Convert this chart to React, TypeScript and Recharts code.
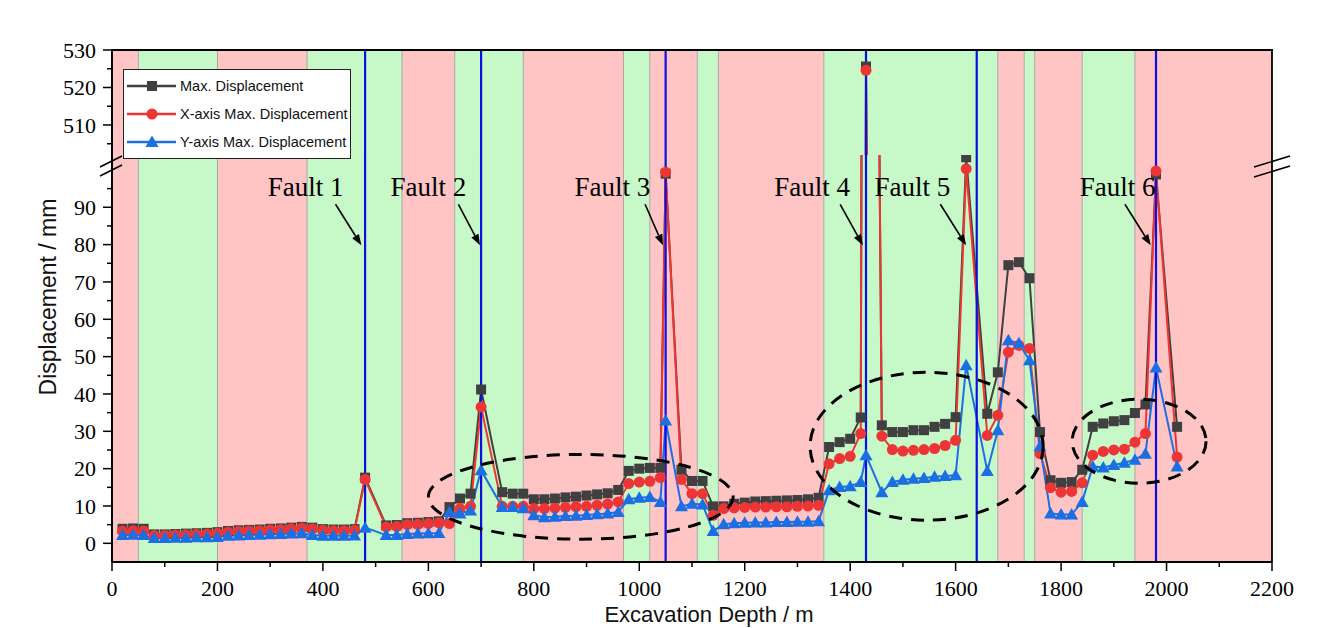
import React from 'react';
import { LineChart, Line, XAxis, YAxis, ReferenceArea, ReferenceLine, ReferenceDot, Legend } from 'recharts';

// excavation depth (m) of each monitoring section
const depth = [
  20, 40, 60, 80, 100, 120, 140, 160, 180, 200,
  220, 240, 260, 280, 300, 320, 340, 360, 380, 400,
  420, 440, 460, 480, 520, 540, 560, 580, 600, 620,
  640, 660, 680, 700, 740, 760, 780, 800, 820, 840,
  860, 880, 900, 920, 940, 960, 980, 1000, 1020, 1040,
  1050, 1080, 1100, 1120, 1140, 1160, 1180, 1200, 1220, 1240,
  1260, 1280, 1300, 1320, 1340, 1360, 1380, 1400, 1420, 1430,
  1460, 1480, 1500, 1520, 1540, 1560, 1580, 1600, 1620, 1660,
  1680, 1700, 1720, 1740, 1760, 1780, 1800, 1820, 1840, 1860,
  1880, 1900, 1920, 1940, 1960, 1980, 2020,
];

const maxDisp = [
  3.9, 4.0, 3.9, 2.4, 2.4, 2.5, 2.6, 2.7, 2.8, 3.0,
  3.3, 3.5, 3.6, 3.7, 3.9, 4.0, 4.2, 4.4, 4.2, 3.8,
  3.7, 3.7, 3.8, 17.6, 4.8, 4.9, 5.4, 5.5, 5.7, 5.9,
  9.7, 12.0, 13.3, 41.2, 13.7, 13.3, 13.3, 11.8, 11.8, 12.0,
  12.3, 12.5, 12.8, 13.1, 13.4, 14.3, 19.4, 20.0, 20.2, 20.2,
  99.0, 19.7, 16.7, 16.7, 9.9, 9.9, 10.6, 10.9, 11.2, 11.3,
  11.4, 11.5, 11.6, 11.8, 12.2, 25.8, 27.1, 28.0, 33.7, 525.6,
  31.6, 29.8, 29.8, 30.3, 30.3, 31.2, 32.0, 33.8, 103.4, 34.7,
  45.8, 74.5, 75.3, 71.0, 29.8, 16.9, 16.2, 16.4, 19.7, 31.2,
  32.1, 32.7, 33.0, 34.9, 37.2, 98.8, 31.2,
];

const xDisp = [
  3.3, 3.4, 3.3, 2.1, 2.1, 2.2, 2.3, 2.4, 2.5, 2.7,
  3.0, 3.2, 3.3, 3.4, 3.6, 3.7, 3.9, 4.1, 3.9, 3.5,
  3.4, 3.4, 3.5, 17.1, 4.4, 4.5, 5.0, 5.1, 5.3, 5.5,
  5.3, 9.3, 9.9, 36.5, 9.9, 9.9, 9.9, 9.3, 9.3, 9.4,
  9.6, 9.8, 9.9, 10.2, 10.5, 11.1, 16.0, 16.4, 16.6, 17.6,
  99.4, 17.1, 13.3, 13.3, 7.5, 9.3, 9.5, 9.6, 9.7, 9.7,
  9.8, 9.8, 9.9, 10.0, 10.2, 21.3, 22.7, 23.3, 29.4, 524.6,
  28.7, 25.1, 24.7, 24.9, 25.1, 25.4, 26.2, 27.6, 100.3, 28.9,
  34.3, 51.2, 53.0, 52.2, 24.0, 14.9, 13.7, 13.9, 16.2, 23.6,
  24.6, 25.0, 25.2, 27.1, 29.4, 99.7, 23.1,
];

const yDisp = [
  2.2, 2.3, 2.2, 1.4, 1.4, 1.5, 1.5, 1.6, 1.6, 1.7,
  2.0, 2.1, 2.2, 2.3, 2.4, 2.5, 2.6, 2.7, 2.2, 2.0,
  2.0, 2.0, 2.1, 4.2, 2.2, 2.2, 2.5, 2.6, 2.7, 2.8,
  8.4, 8.0, 8.8, 19.6, 9.7, 9.7, 9.4, 7.5, 7.0, 7.1,
  7.3, 7.4, 7.6, 7.8, 8.0, 8.4, 11.8, 12.2, 12.4, 11.1,
  32.9, 9.9, 10.6, 10.4, 3.3, 5.1, 5.4, 5.5, 5.6, 5.6,
  5.7, 5.7, 5.8, 5.8, 5.9, 14.2, 15.1, 15.3, 16.4, 23.6,
  13.7, 16.4, 17.0, 17.3, 17.5, 17.8, 18.0, 18.2, 47.7, 19.4,
  30.3, 54.4, 53.6, 49.0, 26.0, 8.0, 7.7, 7.7, 11.1, 20.6,
  20.3, 21.0, 21.6, 22.4, 24.0, 47.1, 20.6,
];

// rock mass zones along the tunnel (edges in m), alternating poor / good
const zoneEdges = [0, 50, 200, 370, 550, 650, 780, 970, 1020, 1110, 1150, 1350, 1680, 1730, 1750, 1840, 1940, 2200];

const faultDepth = [480, 700, 1050, 1430, 1640, 1980];
const faultNames = ['Fault 1', 'Fault 2', 'Fault 3', 'Fault 4', 'Fault 5', 'Fault 6'];
const faultTextX = [367, 600, 949, 1328, 1518, 1907];
const arrowFromX = [424, 657, 1011, 1381, 1571, 1921];
const arrowToX = [473, 698, 1045, 1424, 1620, 1970];

// dashed rings around the zones of interest: [x1, x2, y1, y2]
const rings = [
  [600, 1178, 1.1, 23.8],
  [1324, 1766, 6.2, 45.8],
  [1821, 2075, 16.1, 38.6],
];

const xTicks = [0, 100, 200, 300, 400, 500, 600, 700, 800, 900, 1000, 1100, 1200, 1300, 1400, 1500, 1600, 1700, 1800, 1900, 2000, 2100, 2200];
const lowTicks = [0, 5, 10, 15, 20, 25, 30, 35, 40, 45, 50, 55, 60, 65, 70, 75, 80, 85, 90, 95];
const highTicks = [505, 510, 515, 520, 525, 530];

const data = depth.map((d, i) => ({ depth: d, max: maxDisp[i], x: xDisp[i], y: yDisp[i] }));

const BLACK = '#404040';
const RED = '#ee3535';
const BLUE = '#1c6fe2';
const PINK = '#ffc5c5';
const GREEN = '#c7f8c7';
const FAULT = '#0b10e0';
const SERIF = '"Liberation Serif", "Times New Roman", serif';
const SANS = '"Liberation Sans", Arial, sans-serif';

const Square = (p: any) =>
  p.cx == null || p.cy == null ? null : <rect key={p.key} x={p.cx - 5} y={p.cy - 5} width={10} height={10} fill={BLACK} />;
const Circle = (p: any) =>
  p.cx == null || p.cy == null ? null : <circle key={p.key} cx={p.cx} cy={p.cy} r={5.5} fill={RED} />;
const Triangle = (p: any) =>
  p.cx == null || p.cy == null ? null : (
    <path key={p.key} d={`M${p.cx},${p.cy - 6.5} L${p.cx + 6.5},${p.cy + 5} L${p.cx - 6.5},${p.cy + 5} Z`} fill={BLUE} />
  );

const series = [
  { key: 'max', name: 'Max. Displacement', color: BLACK, dot: Square },
  { key: 'x', name: 'X-axis Max. Displacement', color: RED, dot: Circle },
  { key: 'y', name: 'Y-axis Max. Displacement', color: BLUE, dot: Triangle },
];

const XTick = ({ x, y, payload }: any) => {
  const major = payload.value % 200 === 0;
  return (
    <g>
      <line x1={x} x2={x} y1={y} y2={y + (major ? 9 : 5)} stroke="#000" strokeWidth={1.5} />
      {major && (
        <text x={x} y={y + 34} textAnchor="middle" fontFamily={SERIF} fontSize={22} fill="#000">
          {payload.value}
        </text>
      )}
    </g>
  );
};

const YTick = ({ x, y, payload }: any) => {
  const major = payload.value % 10 === 0;
  return (
    <g>
      <line x1={x} x2={x - (major ? 9 : 5)} y1={y} y2={y} stroke="#000" strokeWidth={1.5} />
      {major && (
        <text x={x - 16} y={y} dy="0.35em" textAnchor="end" fontFamily={SERIF} fontSize={22} fill="#000">
          {payload.value}
        </text>
      )}
    </g>
  );
};

const LegendBox = () => (
  <div style={{ border: '1.5px solid #222', background: '#fff', width: 226, height: 86, paddingTop: 2, boxSizing: 'content-box' }}>
    {series.map((s) => {
      const Dot = s.dot;
      return (
        <div key={s.key} style={{ display: 'flex', alignItems: 'center', height: 28 }}>
          <svg width={56} height={16} style={{ display: 'block' }}>
            <line x1={3} x2={52} y1={8} y2={8} stroke={s.color} strokeWidth={2.5} />
            <Dot cx={28} cy={8} />
          </svg>
          <span style={{ fontFamily: SANS, fontSize: 14.5, color: '#111', whiteSpace: 'nowrap' }}>{s.name}</span>
        </div>
      );
    })}
  </div>
);

const zoneAreas = zoneEdges.slice(0, -1).map((x1, i) => (
  <ReferenceArea key={`zone-${i}`} x1={x1} x2={zoneEdges[i + 1]} fill={i % 2 === 0 ? PINK : GREEN} fillOpacity={1} stroke="none" ifOverflow="hidden" />
));

const zoneLines = zoneEdges.slice(1, -1).map((x) => (
  <ReferenceLine key={`edge-${x}`} x={x} stroke="#a8a8a8" strokeWidth={1} />
));

const faultLines = faultDepth.map((x) => (
  <ReferenceLine key={`fault-${x}`} x={x} stroke={FAULT} strokeWidth={2.2} />
));

const ArrowShape = (p: any) => {
  const { x1, y1, x2, y2 } = p;
  if ([x1, y1, x2, y2].some((v) => v == null)) return null;
  const ang = Math.atan2(y2 - y1, x2 - x1);
  const len = 11;
  const half = 4;
  const bx = x2 - len * Math.cos(ang);
  const by = y2 - len * Math.sin(ang);
  const nx = -Math.sin(ang) * half;
  const ny = Math.cos(ang) * half;
  return (
    <g>
      <line x1={x1} y1={y1} x2={bx} y2={by} stroke="#000" strokeWidth={1.6} />
      <path d={`M${x2},${y2} L${bx + nx},${by + ny} L${bx - nx},${by - ny} Z`} fill="#000" />
    </g>
  );
};

const faultArrows = faultDepth.map((f, i) => (
  <ReferenceLine
    key={`arrow-${f}`}
    segment={[{ x: arrowFromX[i], y: 90.8 }, { x: arrowToX[i], y: 79.8 }]}
    shape={ArrowShape}
    ifOverflow="visible"
  />
));

const faultLabels = faultDepth.map((f, i) => (
  <ReferenceDot
    key={`label-${f}`}
    x={faultTextX[i]}
    y={92.9}
    ifOverflow="visible"
    shape={(p: any) => (
      <text x={p.cx} y={p.cy} textAnchor="middle" fontFamily={SERIF} fontSize={27} fill="#000">
        {faultNames[i]}
      </text>
    )}
  />
));

const ringAreas = rings.map(([x1, x2, y1, y2], i) => (
  <ReferenceArea
    key={`ring-${i}`}
    x1={x1}
    x2={x2}
    y1={y1}
    y2={y2}
    ifOverflow="visible"
    zIndex={700}
    shape={(p: any) => (
      <ellipse
        cx={p.x + p.width / 2}
        cy={p.y + p.height / 2}
        rx={Math.abs(p.width) / 2}
        ry={Math.abs(p.height) / 2}
        fill="none"
        stroke="#000"
        strokeWidth={3}
        strokeDasharray="13 9"
      />
    )}
  />
));

const seriesLines = series.map((s) => (
  <Line
    key={s.key}
    dataKey={s.key}
    name={s.name}
    type="linear"
    stroke={s.color}
    strokeWidth={2}
    dot={s.dot}
    activeDot={false}
    isAnimationActive={false}
  />
));

const CHART_W = 1328;
const MARGIN_L = 52;
const MARGIN_R = 56;

export default function App() {
  return (
    <div style={{ position: 'absolute', left: 0, top: 0, width: 1328, height: 628, background: '#fff', overflow: 'hidden' }}>
      {/* lower segment: 0 – 100 mm */}
      <div style={{ position: 'absolute', left: 0, top: 155, zIndex: 1 }}>
        <LineChart width={CHART_W} height={473} data={data} margin={{ top: 0, right: MARGIN_R, bottom: 16, left: MARGIN_L }}>
          <XAxis
            dataKey="depth"
            type="number"
            domain={[0, 2200]}
            ticks={xTicks}
            interval={0}
            tick={<XTick />}
            tickLine={false}
            tickSize={0}
            tickMargin={0}
            height={50}
            allowDataOverflow
            axisLine={{ stroke: '#000', strokeWidth: 2 }}
          />
          <YAxis
            type="number"
            domain={[-5, 104]}
            ticks={lowTicks}
            interval={0}
            tick={<YTick />}
            tickLine={false}
            tickSize={0}
            tickMargin={0}
            width={60}
            allowDataOverflow
            axisLine={{ stroke: '#000', strokeWidth: 2 }}
          />
          {zoneAreas}
          {zoneLines}
          {seriesLines}
          {faultLines}
          {ringAreas}
          {faultArrows}
          {faultLabels}
        </LineChart>
      </div>

      {/* upper segment: 502 – 530 mm */}
      <div style={{ position: 'absolute', left: 0, top: 0, zIndex: 2 }}>
        <LineChart width={CHART_W} height={155} data={data} margin={{ top: 50, right: MARGIN_R, bottom: 0, left: MARGIN_L }}>
          <XAxis dataKey="depth" type="number" domain={[0, 2200]} hide allowDataOverflow />
          <YAxis
            type="number"
            domain={[502, 530]}
            ticks={highTicks}
            interval={0}
            tick={<YTick />}
            tickLine={false}
            tickSize={0}
            tickMargin={0}
            width={60}
            allowDataOverflow
            axisLine={{ stroke: '#000', strokeWidth: 2 }}
          />
          {zoneAreas}
          {zoneLines}
          {seriesLines}
          {faultLines}
          <Legend
            layout="vertical"
            align="center"
            verticalAlign="middle"
            content={<LegendBox />}
            wrapperStyle={{ left: 123, top: 69, width: 229, height: 90 }}
          />
        </LineChart>
      </div>

      {/* frame, axis break marks and axis titles */}
      <svg width={1328} height={628} style={{ position: 'absolute', left: 0, top: 0, zIndex: 3, pointerEvents: 'none' }}>
        <line x1={111} x2={1273} y1={50} y2={50} stroke="#000" strokeWidth={1.8} />
        <line x1={1272} x2={1272} y1={50} y2={562} stroke="#000" strokeWidth={1.8} />
        <line x1={100} y1={167} x2={122} y2={156} stroke="#000" strokeWidth={1.6} />
        <line x1={100} y1={176} x2={122} y2={165} stroke="#000" strokeWidth={1.6} />
        <line x1={1254} y1={167} x2={1290} y2={156} stroke="#000" strokeWidth={1.6} />
        <line x1={1254} y1={177} x2={1290} y2={166} stroke="#000" strokeWidth={1.6} />
        <text
          transform="translate(56,297) rotate(-90)"
          textAnchor="middle"
          fontFamily={SANS}
          fontSize={23}
          fill="#111"
        >
          Displacement / mm
        </text>
        <text x={709} y={622} textAnchor="middle" fontFamily={SANS} fontSize={22} fill="#111">
          Excavation Depth / m
        </text>
      </svg>
    </div>
  );
}
